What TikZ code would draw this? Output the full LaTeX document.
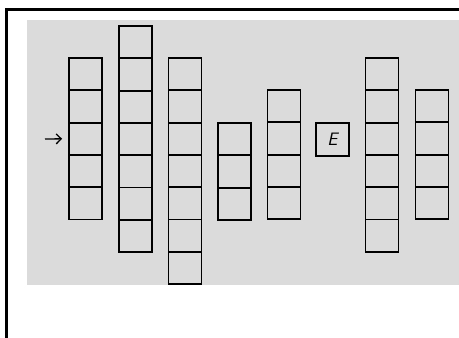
\documentclass[tikz,border=0pt]{standalone}
\usepackage{tikz}
\usetikzlibrary{arrows.meta}
\definecolor{paper}{gray}{0.86}

\begin{document}
\begin{tikzpicture}[x=1pt,y=-1pt,
  cell/.style={draw,line width=1.8pt,minimum width=33pt,minimum height=32.3pt,inner sep=0pt},
]
\useasboundingbox (0,0) rectangle (459,338);
% scanned sheet and frame
\fill[paper] (27,20) rectangle (459,285);
\draw[line width=3pt] (6.5,338) -- (6.5,9) -- (459,9);
% columns of cells (x, top, count, name)
\foreach \x/\t/\n/\c in {85.5/58/5/a,135.5/26/7/b,185/58/7/c,234.5/123/3/d,284/90/4/f,382/58/6/g,432/90/4/h}{
  \foreach \i in {1,...,\n}{ \node[cell] (\c\i) at (\x,{\t+(\i-0.5)*32.3}) {}; }
}
% lone box
\node[cell,font=\fontsize{18}{18}\selectfont\sffamily\slshape] (e) at (332.5,139.5) {E};
% pointer
\coordinate (arr) at (45,139);
\draw[-{Straight Barb[length=5pt,width=10pt]},line width=1.3pt,shorten >=6pt] (arr) -- (a3.west);
\end{tikzpicture}
\end{document}
